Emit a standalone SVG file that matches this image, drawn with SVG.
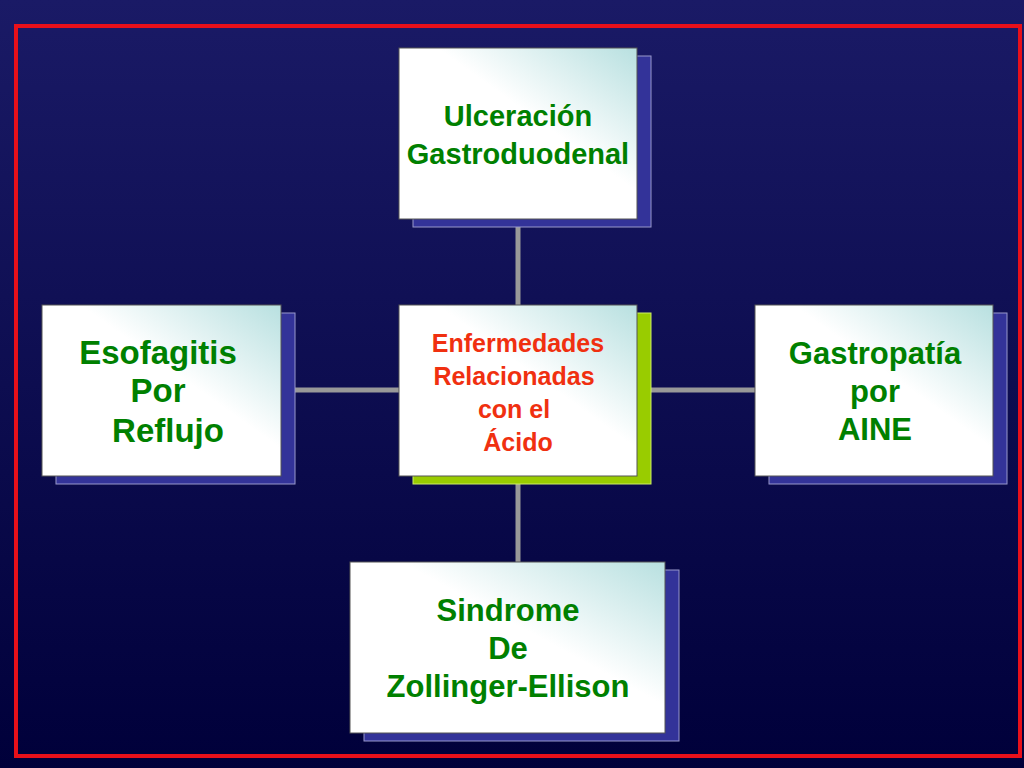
<svg xmlns="http://www.w3.org/2000/svg" width="1024" height="768" viewBox="0 0 1024 768">
<defs>
<linearGradient id="bg" x1="0" y1="0" x2="0" y2="1"><stop offset="0" stop-color="#1a1a66"/><stop offset="1" stop-color="#00003a"/></linearGradient>
<linearGradient id="box" x1="1" y1="0" x2="0.3" y2="0.7"><stop offset="0" stop-color="#b8e0e0"/><stop offset="0.6" stop-color="#ffffff"/><stop offset="1" stop-color="#ffffff"/></linearGradient>
<style>
.b{fill:url(#box);stroke:#555;stroke-width:1}
.s{fill:#333399;stroke:#9999cc;stroke-width:1}
.t{font-family:"Liberation Sans",Arial,sans-serif;font-weight:bold;fill:#008000;text-anchor:middle;font-size:30px}
.c{font-family:"Liberation Sans",Arial,sans-serif;font-weight:bold;fill:#f03010;text-anchor:middle;font-size:25px}
.l{stroke:#999;stroke-width:5}
</style>
</defs>
<rect width="1024" height="768" fill="url(#bg)"/>
<rect x="16" y="26" width="1004" height="730" fill="none" stroke="#e8101a" stroke-width="4"/>
<g id="connectors">
<line class="l" x1="518" y1="227" x2="518" y2="305"/>
<line class="l" x1="518" y1="484" x2="518" y2="562"/>
<line class="l" x1="295" y1="390" x2="399" y2="390"/>
<line class="l" x1="651" y1="390" x2="755" y2="390"/>
</g>
<g id="top"><rect class="s" x="413" y="56" width="238" height="171"/><rect class="b" x="399" y="48" width="238" height="171"/>
<text class="t" y="126" style="font-size:29px"><tspan x="518">Ulceración</tspan><tspan x="518" dy="38">Gastroduodenal</tspan></text></g>
<g id="left"><rect class="s" x="56" y="313" width="239" height="171"/><rect class="b" x="42" y="305" width="239" height="171"/>
<text class="t" y="364" style="font-size:33px"><tspan x="158">Esofagitis</tspan><tspan x="158" dy="38">Por</tspan><tspan x="168" dy="40">Reflujo</tspan></text></g>
<g id="center"><rect x="413" y="313" width="238" height="171" fill="#99cc00" stroke="#ccee66"/><rect class="b" x="399" y="305" width="238" height="171"/>
<text class="c" y="352"><tspan x="518">Enfermedades</tspan><tspan x="514" dy="33">Relacionadas</tspan><tspan x="514" dy="33">con el</tspan><tspan x="518" dy="33">Ácido</tspan></text></g>
<g id="right"><rect class="s" x="769" y="313" width="238" height="171"/><rect class="b" x="755" y="305" width="238" height="171"/>
<text class="t" y="364" style="font-size:31px"><tspan x="875">Gastropatía</tspan><tspan x="875" dy="38">por</tspan><tspan x="875" dy="38">AINE</tspan></text></g>
<g id="bottom"><rect class="s" x="364" y="570" width="315" height="171"/><rect class="b" x="350" y="562" width="315" height="171"/>
<text class="t" y="621" style="font-size:31px"><tspan x="508">Sindrome</tspan><tspan x="508" dy="38">De</tspan><tspan x="508" dy="38">Zollinger-Ellison</tspan></text></g>
</svg>
